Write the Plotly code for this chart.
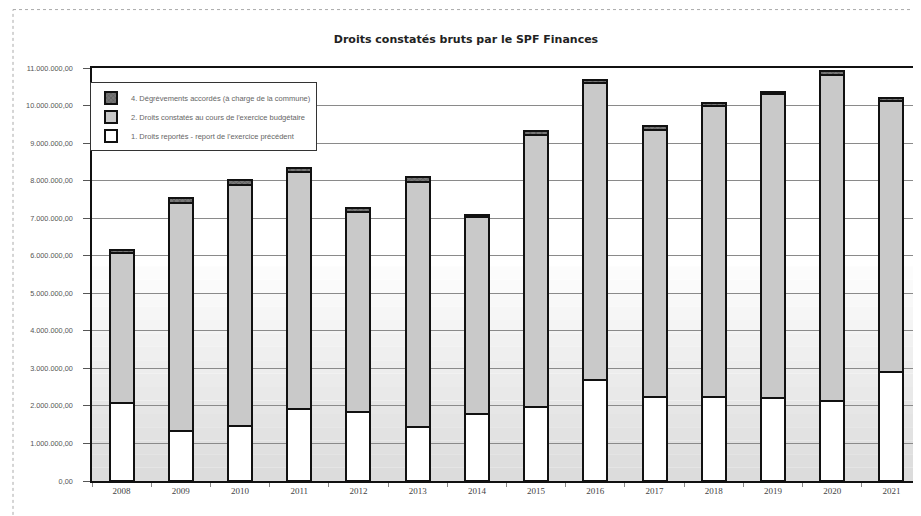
import plotly.graph_objects as go

years = ["2008", "2009", "2010", "2011", "2012", "2013", "2014",
         "2015", "2016", "2017", "2018", "2019", "2020", "2021"]

# 1. Droits reportés (white, bottom)
droits_reportes = [2070000, 1340000, 1470000, 1920000, 1850000, 1430000, 1790000,
                   1980000, 2690000, 2250000, 2240000, 2200000, 2140000, 2910000]
# 2. Droits constatés au cours de l'exercice (grey, middle)
droits_exercice = [3990000, 6070000, 6410000, 6320000, 5320000, 6540000, 5230000,
                   7230000, 7900000, 7110000, 7740000, 8100000, 8670000, 7210000]
# 4. Dégrèvements accordés (dark, top)
degrevements = [90000, 120000, 140000, 100000, 90000, 130000, 60000,
                110000, 90000, 90000, 90000, 70000, 120000, 90000]

series_names = [
    "1. Droits reportés - report de l'exercice précédent",
    "2. Droits constatés au cours de l'exercice budgétaire",
    "4. Dégrèvements accordés (à charge de la commune)",
]

y_tick_vals = [0, 1000000, 2000000, 3000000, 4000000, 5000000, 6000000,
               7000000, 8000000, 9000000, 10000000, 11000000]
y_tick_text = ["0,00", "1.000.000,00", "2.000.000,00", "3.000.000,00", "4.000.000,00",
               "5.000.000,00", "6.000.000,00", "7.000.000,00", "8.000.000,00",
               "9.000.000,00", "10.000.000,00", "11.000.000,00"]

fig = go.Figure()
fig.add_trace(go.Bar(x=years, y=droits_reportes, name=series_names[0],
                     marker=dict(color="#ffffff", line=dict(color="#111111", width=2))))
fig.add_trace(go.Bar(x=years, y=droits_exercice, name=series_names[1],
                     marker=dict(color="#c9c9c9", line=dict(color="#111111", width=2))))
fig.add_trace(go.Bar(x=years, y=degrevements, name=series_names[2],
                     marker=dict(color="#555555",
                                 pattern=dict(shape="x", fgcolor="#111111", bgcolor="#777777", size=4),
                                 line=dict(color="#111111", width=2))))

# page has an 8px body margin: figure is 913x508 drawn at (8, 8)
W, H = 913, 508
L, T, B = 84, 59.5, 35
plot_h = H - T - B

# background gradient bands (white at top -> light grey at bottom)
shapes = []
n = 16
top = 0.52
for i in range(n):
    y0 = top * i / n
    y1 = top * (i + 1) / n
    g = int(0xdc + (0xff - 0xdc) * (i / n))
    shapes.append(dict(type="rect", xref="paper", yref="paper", x0=0, x1=1, y0=y0, y1=y1,
                       fillcolor=f"rgb({g},{g},{g})", line=dict(width=0), layer="below"))
# outer frame (left edge at page x=13, top edge at the page top)
fx = (13 - 8 - L) / (W - L)
fy = 1 + (T - 1) / plot_h
shapes.append(dict(type="line", xref="paper", yref="paper", x0=fx, x1=fx, y0=-0.3, y1=fy,
                   line=dict(color="#aaaaaa", width=1, dash="dot")))
shapes.append(dict(type="line", xref="paper", yref="paper", x0=fx, x1=1.2, y0=fy, y1=fy,
                   line=dict(color="#aaaaaa", width=1, dash="dot")))

fig.update_layout(
    width=W, height=H,
    margin=dict(l=L, r=0, t=T, b=B, pad=0),
    paper_bgcolor="white", plot_bgcolor="white",
    barmode="stack", bargap=0.595,
    shapes=shapes,
    title=dict(text="<b>Droits constatés bruts par le SPF Finances</b>",
               x=(466 - 8 - L) / (W - L), xref="paper", xanchor="center",
               y=1 - (39 - 8) / H, yanchor="middle",
               font=dict(family="DejaVu Sans", size=11, color="#222222")),
    font=dict(family="Liberation Sans", color="#444444"),
    legend=dict(x=(90 - 8 - L) / (W - L), y=1 - (82 - 8 - T) / plot_h,
                xanchor="left", yanchor="top", traceorder="reversed",
                bgcolor="white", bordercolor="#333333", borderwidth=1,
                font=dict(size=7.5, color="#666666"), itemwidth=30,
                tracegroupgap=0),
    showlegend=True,
)
fig.update_xaxes(type="category", range=[-0.5, 13.5], showline=True, linecolor="#111111",
                 linewidth=1.5, mirror=True, ticks="outside", tickson="boundaries",
                 ticklen=4, tickcolor="#888888", showgrid=False,
                 tickfont=dict(family="Liberation Serif", size=9, color="#444444"))
fig.update_yaxes(range=[0, 11000000], tickvals=y_tick_vals, ticktext=y_tick_text,
                 showline=True, linecolor="#111111", linewidth=1.5,
                 ticks="outside", ticklen=7, tickcolor="#555555",
                 ticklabelstandoff=9,
                 showgrid=True, gridcolor="#8a8a8a", gridwidth=1, zeroline=False,
                 tickfont=dict(family="Liberation Sans", size=7.3, color="#555555"))

fig.write_html("out.html")
